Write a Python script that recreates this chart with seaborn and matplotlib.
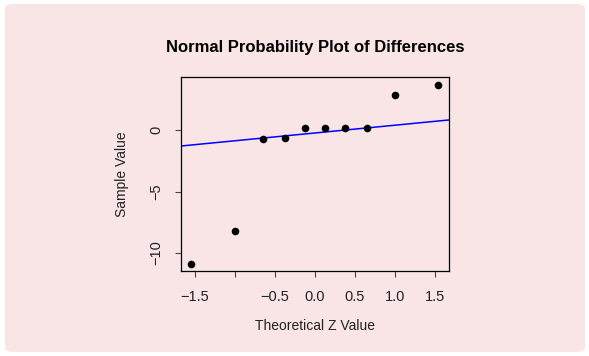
import matplotlib
matplotlib.use("Agg")
import matplotlib.pyplot as plt
from matplotlib.patches import FancyBboxPatch
import seaborn as sns
import pandas as pd

# Data
theoretical_z = [-1.547, -1.0, -0.655, -0.375, -0.123, 0.123, 0.375, 0.655, 1.0, 1.547]
sample_value = [-10.9, -8.2, -0.68, -0.6, 0.19, 0.2, 0.2, 0.2, 2.9, 3.72]
line_intercept = -0.22
line_slope = 0.633
x_ticks = [-1.5, -1.0, -0.5, 0.0, 0.5, 1.0, 1.5]
x_tick_labels = ["\u22121.5", "", "\u22120.5", "0.0", "0.5", "1.0", "1.5"]
y_ticks = [-10, -5, 0]
y_tick_labels = ["\u221210", "\u22125", "0"]
title = "Normal Probability Plot of Differences"
x_label = "Theoretical Z Value"
y_label = "Sample Value"

df = pd.DataFrame({"z": theoretical_z, "v": sample_value})

sns.set_style("ticks")
plt.rcParams["font.family"] = ["Liberation Sans", "DejaVu Sans"]

BG = "#F9E5E6"
fig = plt.figure(figsize=(5.89, 3.56), dpi=100)
fig.patch.set_facecolor("white")
card = FancyBboxPatch((5 / 589, 4 / 356), 580 / 589, 348 / 356,
                      boxstyle="round,pad=0,rounding_size=0.014",
                      transform=fig.transFigure, facecolor=BG, edgecolor="none",
                      zorder=-10)
fig.add_artist(card)

ax = fig.add_axes([181 / 589, 1 - 271 / 356, 267.7 / 589, 193.7 / 356])
ax.set_zorder(1)
ax.set_facecolor(BG)

sns.scatterplot(data=df, x="z", y="v", ax=ax, color="black", s=30,
                edgecolor="black", linewidth=0, zorder=3)
ax.axline((0, line_intercept), slope=line_slope, color="#0000FF", lw=1.1, zorder=2)

ax.set_xlim(-1.676, 1.675)
ax.set_ylim(-11.47, 4.32)
ax.set_xticks(x_ticks)
ax.set_xticklabels(x_tick_labels)
ax.set_yticks(y_ticks)
ax.set_yticklabels(y_tick_labels, rotation=90, va="center")

for sp in ax.spines.values():
    sp.set_visible(True)
    sp.set_color("black")
    sp.set_linewidth(0.9)

ax.tick_params(axis="both", direction="out", length=4.5, width=0.8,
               color="#444444", labelsize=10.5, labelcolor="#222222")
ax.tick_params(axis="x", pad=9)
ax.tick_params(axis="y", pad=8)

ax.set_xlabel(x_label, fontsize=10, color="#222222", labelpad=11)
ax.set_ylabel(y_label, fontsize=10, color="#222222", labelpad=15)
ax.set_title(title, fontsize=12, fontweight="bold", color="black", pad=18)

fig.savefig("out.png", dpi=100, facecolor=fig.get_facecolor())
